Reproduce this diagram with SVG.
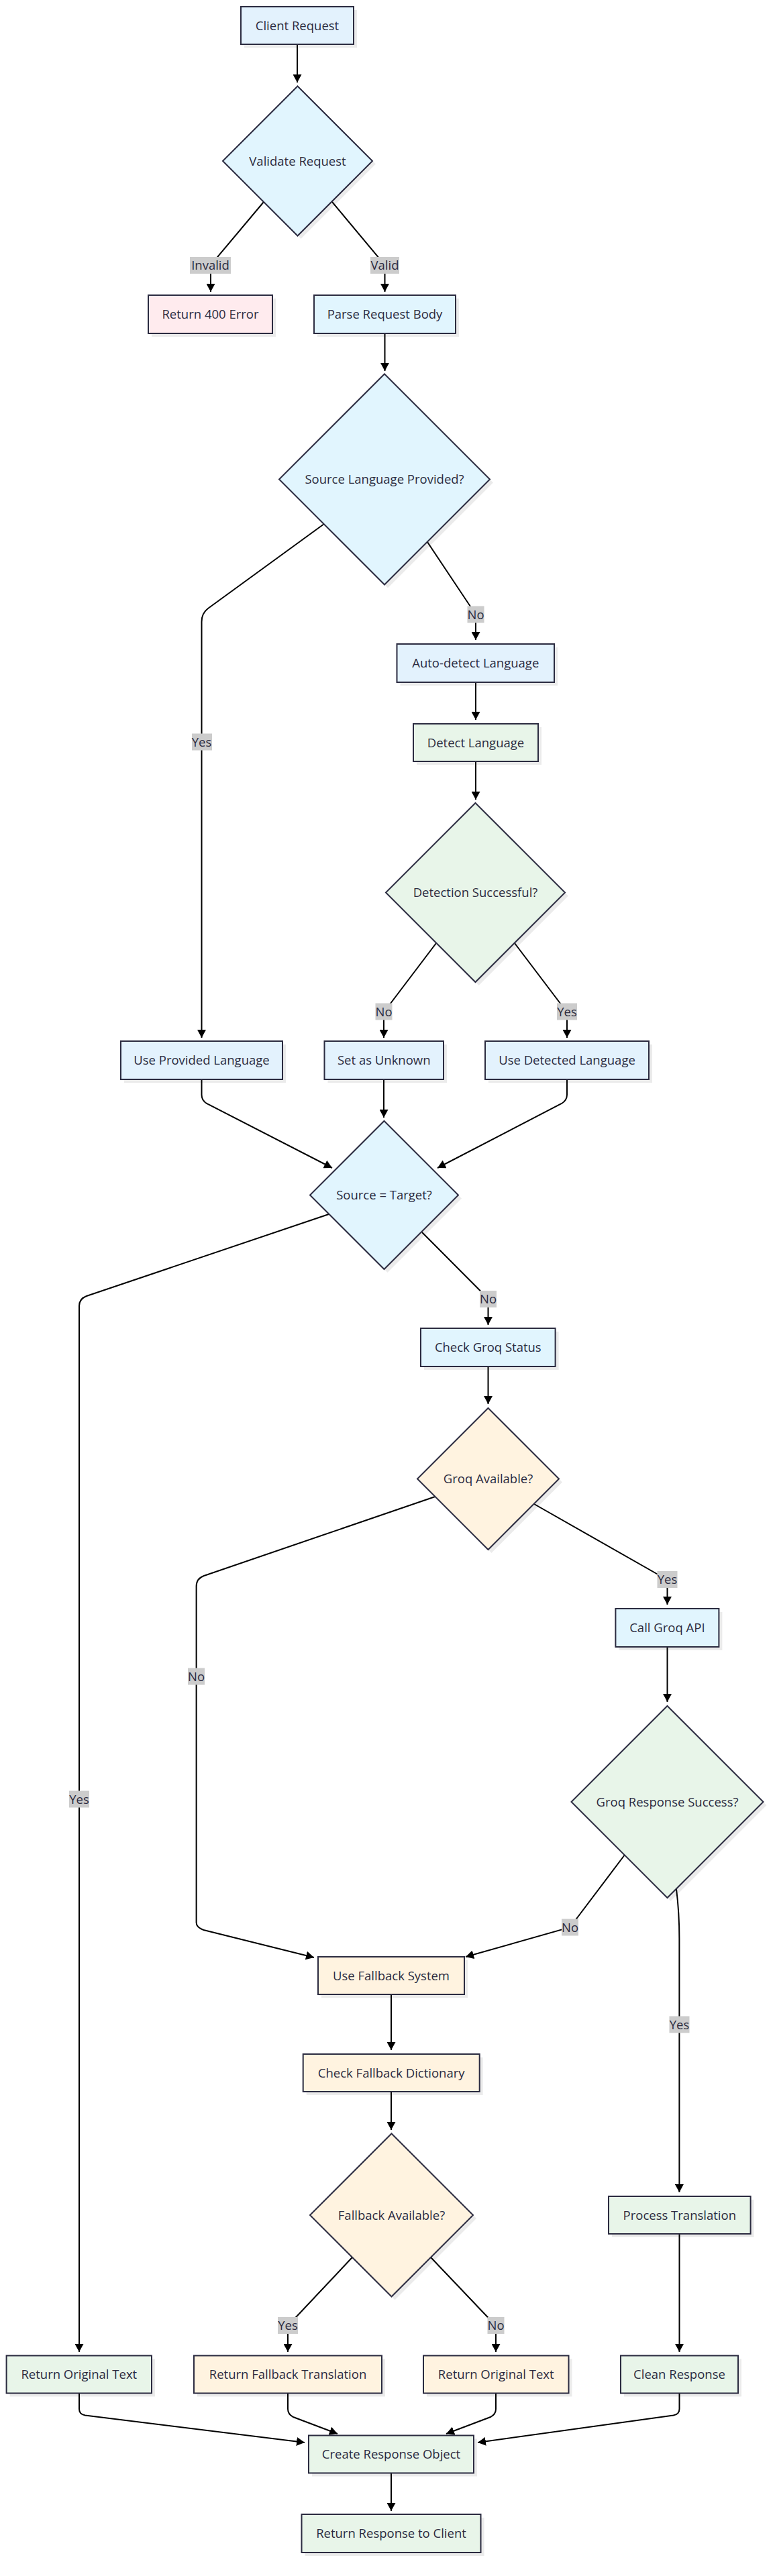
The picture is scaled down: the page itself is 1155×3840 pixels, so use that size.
<svg xmlns="http://www.w3.org/2000/svg" width="1155" height="3840" viewBox="0 0 1155 3840">
<defs>
<style>
.bg{fill:#ffffff}
.n{stroke:#2b2b40;stroke-width:2}
.sh{fill:#000000;fill-opacity:0.08}
.bA{fill:#e3f2fd}
.bB{fill:#e1f5fe}
.rd{fill:#ffebee}
.gr{fill:#e8f5e9}
.or{fill:#fff3e0}
.t{font-family:"Open Sans","Liberation Sans",sans-serif;font-size:18.5px;fill:#2b2b40;text-anchor:middle}
.e{fill:none;stroke:#000000;stroke-width:2}
.lb{fill:#cccccc}
</style>
<marker id="ah" viewBox="0 0 12 13" markerWidth="12" markerHeight="13" refX="12" refY="6.5" orient="auto" markerUnits="userSpaceOnUse">
<path d="M0,0 L12,6.5 L0,13 z" fill="#000000"/>
</marker>
</defs>
<rect class="bg" x="0" y="0" width="1155" height="3840"/>

<g id="connectors">
<path class="e" marker-end="url(#ah)" d="M443,66 L443,123"/>
<path class="e" marker-end="url(#ah)" d="M393,301 L314,395 L314,435"/>
<path class="e" marker-end="url(#ah)" d="M495,301 L573.5,395 L573.5,435"/>
<path class="e" marker-end="url(#ah)" d="M573.5,497 L573.5,553"/>
<path class="e" marker-end="url(#ah)" d="M483,781 L310,907 Q300.5,914 300.5,927 L300.5,1547"/>
<path class="e" marker-end="url(#ah)" d="M637,808 L709,916 L709,954"/>
<path class="e" marker-end="url(#ah)" d="M709,1017 L709,1073"/>
<path class="e" marker-end="url(#ah)" d="M709,1135 L709,1192"/>
<path class="e" marker-end="url(#ah)" d="M650,1406 L572,1509 L572,1547"/>
<path class="e" marker-end="url(#ah)" d="M767,1406 L845,1509 L845,1547"/>
<path class="e" marker-end="url(#ah)" d="M300.5,1609 L300.5,1632 Q300.5,1640 308,1645 L495,1741"/>
<path class="e" marker-end="url(#ah)" d="M572,1609 L572,1666"/>
<path class="e" marker-end="url(#ah)" d="M845,1609 L845,1632 Q845,1640 837,1645 L652,1741"/>
<path class="e" marker-end="url(#ah)" d="M490,1810 L129,1932 Q118,1936 118,1947 L118,3506"/>
<path class="e" marker-end="url(#ah)" d="M629,1837 L727.5,1936 L727.5,1975"/>
<path class="e" marker-end="url(#ah)" d="M727.5,2037 L727.5,2093"/>
<path class="e" marker-end="url(#ah)" d="M648.5,2231 L304,2349 Q292.6,2353 292.6,2365 L292.6,2866 Q292.6,2873 303.5,2877 L468,2918"/>
<path class="e" marker-end="url(#ah)" d="M796,2242 L994.5,2355 L994.5,2392"/>
<path class="e" marker-end="url(#ah)" d="M994.5,2455 L994.5,2537"/>
<path class="e" marker-end="url(#ah)" d="M931,2765 L849.5,2873 L694,2917"/>
<path class="e" marker-end="url(#ah)" d="M1008,2816 C1011,2840 1012.4,2860 1012.4,2890 L1012.4,3268"/>
<path class="e" marker-end="url(#ah)" d="M583,2973 L583,3056"/>
<path class="e" marker-end="url(#ah)" d="M583,3118 L583,3175"/>
<path class="e" marker-end="url(#ah)" d="M525,3365 L429,3467 L429,3506"/>
<path class="e" marker-end="url(#ah)" d="M642,3365 L739,3467 L739,3506"/>
<path class="e" marker-end="url(#ah)" d="M1012.5,3330 L1012.5,3506"/>
<path class="e" marker-end="url(#ah)" d="M118,3568 L118,3591 Q118,3599 127,3600.5 L454,3641"/>
<path class="e" marker-end="url(#ah)" d="M429,3568 L429,3591 Q429,3599 437,3603 L503,3628"/>
<path class="e" marker-end="url(#ah)" d="M739,3568 L739,3591 Q739,3599 731,3603 L665,3628"/>
<path class="e" marker-end="url(#ah)" d="M1012.5,3568 L1012.5,3591 Q1012.5,3599 1003.5,3600.5 L712,3641"/>
<path class="e" marker-end="url(#ah)" d="M583,3687 L583,3743"/>

<g id="edge-labels">
<rect class="lb" x="283" y="383" width="61" height="25"/><text class="t" x="313.5" y="402">Invalid</text>
<rect class="lb" x="552" y="383" width="43" height="25"/><text class="t" x="573.5" y="402">Valid</text>
<rect class="lb" x="696.5" y="903.5" width="25" height="25"/><text class="t" x="709" y="922.5">No</text>
<rect class="lb" x="286" y="1093.5" width="30" height="25"/><text class="t" x="300.5" y="1112.5">Yes</text>
<rect class="lb" x="559.5" y="1495.5" width="25" height="25"/><text class="t" x="572" y="1514.5">No</text>
<rect class="lb" x="830" y="1495.5" width="30" height="25"/><text class="t" x="845" y="1514.5">Yes</text>
<rect class="lb" x="103" y="2669.5" width="30" height="25"/><text class="t" x="118" y="2688.5">Yes</text>
<rect class="lb" x="715" y="1924" width="25" height="25"/><text class="t" x="727.5" y="1943">No</text>
<rect class="lb" x="280" y="2486.5" width="25" height="25"/><text class="t" x="292.6" y="2505.5">No</text>
<rect class="lb" x="979.5" y="2342" width="30" height="25"/><text class="t" x="994.5" y="2361">Yes</text>
<rect class="lb" x="837" y="2860.5" width="25" height="25"/><text class="t" x="849.5" y="2879.5">No</text>
<rect class="lb" x="997.5" y="3005.5" width="30" height="25"/><text class="t" x="1012.5" y="3024.5">Yes</text>
<rect class="lb" x="414" y="3454" width="30" height="25"/><text class="t" x="429" y="3473">Yes</text>
<rect class="lb" x="726.5" y="3454" width="25" height="25"/><text class="t" x="739" y="3473">No</text>
</g>
</g>

<g id="client-request">
<rect class="sh" x="364" y="15" width="168" height="56"/>
<rect class="n bA" x="359" y="10" width="168" height="56"/>
<text class="t" x="443" y="44.5">Client Request</text>
</g>
<g id="validate-request">
<polygon class="sh" points="448.5,133 560,244.5 448.5,356 337,244.5"/>
<polygon class="n bB" points="443.5,128.5 555,240 443.5,351.5 332,240"/>
<text class="t" x="443.5" y="246.5">Validate Request</text>
</g>
<g id="return-400">
<rect class="sh" x="226" y="445" width="185" height="57"/>
<rect class="n rd" x="221" y="440" width="185" height="57"/>
<text class="t" x="313.5" y="475">Return 400 Error</text>
</g>
<g id="parse-body">
<rect class="sh" x="473" y="445" width="211" height="57"/>
<rect class="n bB" x="468" y="440" width="211" height="57"/>
<text class="t" x="573.5" y="475">Parse Request Body</text>
</g>
<g id="source-provided">
<polygon class="sh" points="578,562.5 735,719.5 578,876.5 421,719.5"/>
<polygon class="n bB" points="573,557.5 730,714.5 573,871.5 416,714.5"/>
<text class="t" x="573" y="721">Source Language Provided?</text>
</g>
<g id="auto-detect">
<rect class="sh" x="596.5" y="965" width="234.5" height="57"/>
<rect class="n bA" x="591.5" y="960" width="234.5" height="57"/>
<text class="t" x="708.75" y="995">Auto-detect Language</text>
</g>
<g id="detect-language">
<rect class="sh" x="621" y="1084" width="186" height="56"/>
<rect class="n gr" x="616" y="1079" width="186" height="56"/>
<text class="t" x="709" y="1113.5">Detect Language</text>
</g>
<g id="detection-successful">
<polygon class="sh" points="713.5,1202 847,1335.5 713.5,1469 580,1335.5"/>
<polygon class="n gr" points="708.5,1197 842,1330.5 708.5,1464 575,1330.5"/>
<text class="t" x="708.5" y="1337">Detection Successful?</text>
</g>
<g id="use-provided">
<rect class="sh" x="185" y="1557" width="241" height="57"/>
<rect class="n bA" x="180" y="1552" width="241" height="57"/>
<text class="t" x="300.5" y="1587">Use Provided Language</text>
</g>
<g id="set-unknown">
<rect class="sh" x="488.5" y="1557" width="177.5" height="57"/>
<rect class="n bA" x="483.5" y="1552" width="177.5" height="57"/>
<text class="t" x="572.25" y="1587">Set as Unknown</text>
</g>
<g id="use-detected">
<rect class="sh" x="728" y="1557" width="244" height="57"/>
<rect class="n bA" x="723" y="1552" width="244" height="57"/>
<text class="t" x="845" y="1587">Use Detected Language</text>
</g>
<g id="source-target">
<polygon class="sh" points="577.5,1676 688,1786.5 577.5,1897 467,1786.5"/>
<polygon class="n bB" points="572.5,1671 683,1781.5 572.5,1892 462,1781.5"/>
<text class="t" x="572.5" y="1788">Source = Target?</text>
</g>
<g id="check-groq">
<rect class="sh" x="632" y="1985" width="200.6" height="57"/>
<rect class="n bB" x="627" y="1980" width="200.6" height="57"/>
<text class="t" x="727.3" y="2015">Check Groq Status</text>
</g>
<g id="groq-available">
<polygon class="sh" points="732.5,2104 838,2209.5 732.5,2315 627,2209.5"/>
<polygon class="n or" points="727.5,2099 833,2204.5 727.5,2310 622,2204.5"/>
<text class="t" x="727.5" y="2211">Groq Available?</text>
</g>
<g id="call-groq">
<rect class="sh" x="922.4" y="2403" width="154" height="57"/>
<rect class="n bB" x="917.4" y="2398" width="154" height="57"/>
<text class="t" x="994.4" y="2433">Call Groq API</text>
</g>
<g id="groq-response">
<polygon class="sh" points="999.5,2548 1142.5,2691 999.5,2834 856.5,2691"/>
<polygon class="n gr" points="994.5,2543 1137.5,2686 994.5,2829 851.5,2686"/>
<text class="t" x="994.5" y="2692.5">Groq Response Success?</text>
</g>
<g id="use-fallback">
<rect class="sh" x="479" y="2922" width="218" height="56"/>
<rect class="n or" x="474" y="2917" width="218" height="56"/>
<text class="t" x="583" y="2951.5">Use Fallback System</text>
</g>
<g id="check-fallback">
<rect class="sh" x="456.7" y="3067" width="263" height="56"/>
<rect class="n or" x="451.7" y="3062" width="263" height="56"/>
<text class="t" x="583.2" y="3096.5">Check Fallback Dictionary</text>
</g>
<g id="fallback-available">
<polygon class="sh" points="588.5,3185.5 710,3307 588.5,3428.5 467,3307"/>
<polygon class="n or" points="583.5,3180.5 705,3302 583.5,3423.5 462,3302"/>
<text class="t" x="583.5" y="3308.5">Fallback Available?</text>
</g>
<g id="process-translation">
<rect class="sh" x="912" y="3279" width="211.6" height="56"/>
<rect class="n gr" x="907" y="3274" width="211.6" height="56"/>
<text class="t" x="1012.8" y="3308.5">Process Translation</text>
</g>
<g id="return-original-left">
<rect class="sh" x="14.6" y="3516.5" width="216.4" height="56"/>
<rect class="n gr" x="9.6" y="3511.5" width="216.4" height="56"/>
<text class="t" x="117.8" y="3546">Return Original Text</text>
</g>
<g id="return-fallback-translation">
<rect class="sh" x="294" y="3516.5" width="280" height="56"/>
<rect class="n or" x="289" y="3511.5" width="280" height="56"/>
<text class="t" x="429" y="3546">Return Fallback Translation</text>
</g>
<g id="return-original-right">
<rect class="sh" x="636" y="3516.5" width="216.5" height="56"/>
<rect class="n or" x="631" y="3511.5" width="216.5" height="56"/>
<text class="t" x="739.25" y="3546">Return Original Text</text>
</g>
<g id="clean-response">
<rect class="sh" x="930" y="3516.5" width="175" height="56"/>
<rect class="n gr" x="925" y="3511.5" width="175" height="56"/>
<text class="t" x="1012.5" y="3546">Clean Response</text>
</g>
<g id="create-response">
<rect class="sh" x="465" y="3635.5" width="246" height="56"/>
<rect class="n gr" x="460" y="3630.5" width="246" height="56"/>
<text class="t" x="583" y="3665">Create Response Object</text>
</g>
<g id="return-response">
<rect class="sh" x="454.5" y="3753" width="267" height="57"/>
<rect class="n gr" x="449.5" y="3748" width="267" height="57"/>
<text class="t" x="583" y="3783">Return Response to Client</text>
</g>
</svg>
